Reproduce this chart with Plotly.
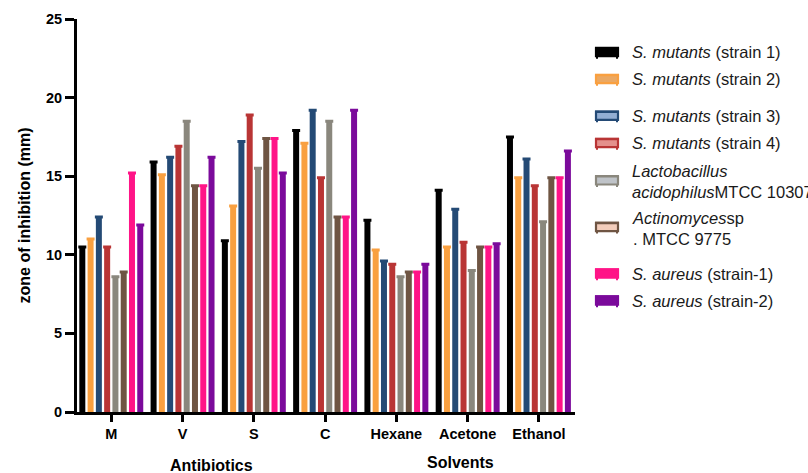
import plotly.graph_objects as go

# Test agents on the x axis
categories = ["M", "V", "S", "C", "Hexane", "Acetone", "Ethanol"]

# Zone of inhibition (mm) for each test organism
s_mutants_1 = [10.5, 15.9, 10.9, 17.9, 12.2, 14.1, 17.5]
s_mutants_2 = [11.0, 15.1, 13.1, 17.1, 10.3, 10.5, 14.9]
s_mutants_3 = [12.4, 16.2, 17.2, 19.2, 9.6, 12.9, 16.1]
s_mutants_4 = [10.5, 16.9, 18.9, 14.9, 9.4, 10.8, 14.4]
lactobacillus = [8.6, 18.5, 15.5, 18.5, 8.6, 9.0, 12.1]
actinomyces = [8.9, 14.4, 17.4, 12.4, 8.9, 10.5, 14.9]
s_aureus_1 = [15.2, 14.4, 17.4, 12.4, 8.9, 10.5, 14.9]
s_aureus_2 = [11.9, 16.2, 15.2, 19.2, 9.4, 10.7, 16.6]

series_values = [s_mutants_1, s_mutants_2, s_mutants_3, s_mutants_4,
                 lactobacillus, actinomyces, s_aureus_1, s_aureus_2]
series_labels = [
    "<i>S. mutants</i> (strain 1)",
    "<i>S. mutants</i> (strain 2)",
    "<i>S. mutants</i> (strain 3)",
    "<i>S. mutants</i> (strain 4)",
    "<i>Lactobacillus</i><br><i>acidophilus</i>MTCC 10307",
    "<i>Actinomyces</i>sp<br>. MTCC 9775",
    "<i>S. aureus</i> (strain-1)",
    "<i>S. aureus</i> (strain-2)",
]
edge_colors = ["#000000", "#F9A040", "#244A75", "#B93535",
               "#8A877D", "#6F5543", "#FF1487", "#7B0A9B"]
fill_colors = ["#000000", "#EBA862", "#93AED3", "#E4908C",
               "#BFC3C8", "#F3CDBB", "#FF1487", "#7B0A9B"]

y_ticks = [0, 5, 10, 15, 20, 25]

W, H = 808, 473
ML, MR, MT, MB = 77, 233, 19, 60.5
PW = W - ML - MR
PH = H - MT - MB


def px_x(px):
    return (px - ML) / PW


def px_y(py):
    return (H - MB - py) / PH


fig = go.Figure()
for vals, col in zip(series_values, edge_colors):
    fig.add_trace(go.Bar(
        x=categories, y=vals,
        marker=dict(color=col, line=dict(width=0)),
        error_y=dict(type="data", array=[0] * len(vals), visible=True,
                     color=col, thickness=3, width=4),
        showlegend=False,
    ))

axis_font = dict(family="Arial", size=14.5, color="#000000", weight="bold")

fig.update_layout(
    width=W, height=H,
    margin=dict(l=ML, r=MR, t=MT, b=MB, pad=0),
    paper_bgcolor="white", plot_bgcolor="white",
    barmode="group", bargap=0.071, bargroupgap=0.275,
    font=dict(family="Arial", color="#000000"),
    xaxis=dict(
        type="category", range=[-0.481, 6.506],
        showline=True, linecolor="#000000", linewidth=3,
        ticks="outside", ticklen=7, tickwidth=2.5, tickcolor="#000000",
        tickfont=axis_font, showgrid=False, zeroline=False,
    ),
    yaxis=dict(
        range=[0, 25], tickvals=y_ticks,
        showline=True, linecolor="#000000", linewidth=3,
        ticks="outside", ticklen=9, tickwidth=2.5, tickcolor="#000000",
        tickfont=axis_font, showgrid=False, zeroline=False,
        title=dict(text="zone of inhibition (mm)",
                   font=dict(family="Arial", size=16, color="#000000",
                             weight="bold"),
                   standoff=12),
    ),
)

# Group labels under the category axis
fig.add_annotation(text="Antibiotics", xref="paper", yref="paper",
                   x=px_x(211.3), y=px_y(466), showarrow=False,
                   xanchor="center", yanchor="middle",
                   font=dict(family="Arial", size=16, color="#000000",
                             weight="bold"))
fig.add_annotation(text="Solvents", xref="paper", yref="paper",
                   x=px_x(460), y=px_y(463.3), showarrow=False,
                   xanchor="center", yanchor="middle",
                   font=dict(family="Arial", size=16, color="#000000",
                             weight="bold"))

# Legend drawn at the right of the plot
row_centers = [52.3, 79.3, 116, 143.3, 180.7, 227.3, 274, 301]
text_centers = [52.3, 79.3, 116, 143.3, 181.5, 228.5, 274, 301]
icon_x0, icon_x1 = 595, 619
for lbl, edge, fill, yc, yt in zip(series_labels, edge_colors, fill_colors,
                                   row_centers, text_centers):
    fig.add_shape(type="rect", xref="paper", yref="paper",
                  x0=px_x(icon_x0 + 1), x1=px_x(icon_x1 - 1),
                  y0=px_y(yc + 4), y1=px_y(yc - 4),
                  fillcolor=fill, line=dict(color=edge, width=2.2))
    fig.add_shape(type="line", xref="paper", yref="paper",
                  x0=px_x(icon_x0), x1=px_x(icon_x1),
                  y0=px_y(yc - 4.5), y1=px_y(yc - 4.5),
                  line=dict(color=edge, width=2))
    for lx in (icon_x0 + 2, icon_x1 - 2):
        fig.add_shape(type="line", xref="paper", yref="paper",
                      x0=px_x(lx), x1=px_x(lx),
                      y0=px_y(yc + 4), y1=px_y(yc + 6.5),
                      line=dict(color=edge, width=2))
    fig.add_annotation(text=lbl, xref="paper", yref="paper",
                       x=px_x(630), y=px_y(yt), showarrow=False,
                       xanchor="left", yanchor="middle", align="left",
                       font=dict(family="Arial", size=16.5, color="#1a1a1a"))

fig.write_html("out.html")
